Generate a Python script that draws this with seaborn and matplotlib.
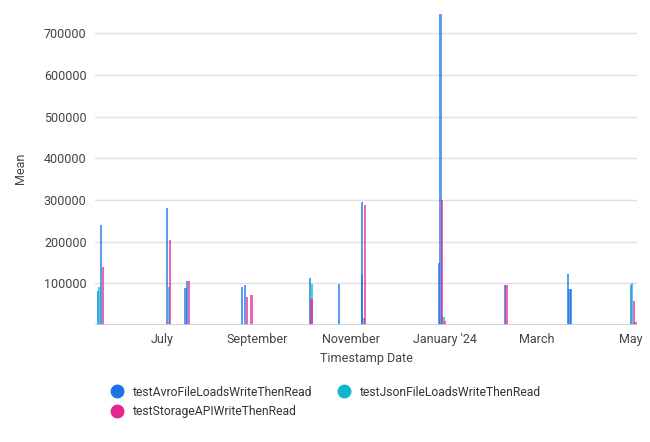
import pandas as pd
import matplotlib.pyplot as plt
from matplotlib.lines import Line2D
import seaborn as sns

# bar data (date, mean) per test
avro_dates = ["2023-05-20", "2023-05-22", "2023-07-04", "2023-07-16", "2023-07-17",
              "2023-08-22", "2023-08-24", "2023-10-05", "2023-10-24", "2023-11-08",
              "2023-11-08", "2023-12-28", "2023-12-29", "2024-02-09", "2024-03-21",
              "2024-03-22", "2024-03-23", "2024-05-01"]
avro_mean = [82000, 240000, 281000, 89000, 106000,
             91000, 96000, 113000, 98000, 295000,
             122000, 148000, 746000, 96000, 122000,
             86000, 86000, 96000]

json_dates = ["2023-05-21", "2023-07-05", "2023-10-06", "2023-11-09", "2023-12-31",
              "2024-05-02"]
json_mean = [91000, 91000, 98000, 17000, 20000, 100000]

storage_dates = ["2023-05-23", "2023-07-06", "2023-07-18", "2023-08-25", "2023-08-28",
                 "2023-10-06", "2023-11-10", "2023-12-30", "2024-01-01", "2024-02-10",
                 "2024-05-03", "2024-05-04"]
storage_mean = [139000, 204000, 106000, 68000, 72000,
                63000, 288000, 300000, 10000, 96000,
                57000, 7000]

series = ["testAvroFileLoadsWriteThenRead", "testJsonFileLoadsWriteThenRead",
          "testStorageAPIWriteThenRead"]
colors = ["#1a73e8", "#12b5cb", "#e52592"]

df = pd.concat([
    pd.DataFrame({"date": pd.to_datetime(avro_dates), "mean": avro_mean, "test": series[0]}),
    pd.DataFrame({"date": pd.to_datetime(json_dates), "mean": json_mean, "test": series[1]}),
    pd.DataFrame({"date": pd.to_datetime(storage_dates), "mean": storage_mean, "test": series[2]}),
])

sns.set_theme(style="white")
plt.rcParams["font.family"] = ["Roboto", "DejaVu Sans"]

fig = plt.figure(figsize=(6.5, 4.42), dpi=100)
ax = fig.add_axes([0.146, 0.265, 0.834, 0.707])

for name, col in zip(series, colors):
    sub = df[df["test"] == name]
    ax.bar(sub["date"], sub["mean"], width=1.4, color=col, alpha=0.7, linewidth=0)

ax.set_xlim(pd.Timestamp("2023-05-18"), pd.Timestamp("2024-05-05"))
ax.set_ylim(0, 750000)

ax.set_yticks([100000, 200000, 300000, 400000, 500000, 600000, 700000])
ax.yaxis.grid(True, color="#e0e0e0", linewidth=1)
ax.axhline(0, color="#c8ccd0", linewidth=1.2)

month_ticks = pd.to_datetime(["2023-07-01", "2023-09-01", "2023-11-01",
                              "2024-01-01", "2024-03-01", "2024-05-01"])
month_labels = ["July", "September", "November", "January '24", "March", "May"]
ax.set_xticks(month_ticks)
ax.set_xticklabels(month_labels)

ax.tick_params(axis="both", length=0, labelsize=9, colors="#444444", pad=6)
for s in ax.spines.values():
    s.set_visible(False)

ax.set_xlabel("Timestamp Date", fontsize=9, color="#444444", labelpad=4)
ax.set_ylabel("Mean", fontsize=9, color="#444444", labelpad=12)

# legend fills column-wise, so order gives rows: Avro, Json / Storage
handles = [Line2D([0], [0], marker="o", linestyle="", markersize=9,
                  markerfacecolor=c, markeredgecolor=c) for c in colors]
order = [0, 2, 1]
fig.legend([handles[i] for i in order], [series[i] for i in order],
           loc="upper left", bbox_to_anchor=(0.145, 0.152),
           ncol=2, frameon=False, fontsize=8.7, handletextpad=0.3,
           columnspacing=1.6, labelspacing=0.5, labelcolor="#333333")

plt.savefig("out.png", dpi=100)
plt.close()
